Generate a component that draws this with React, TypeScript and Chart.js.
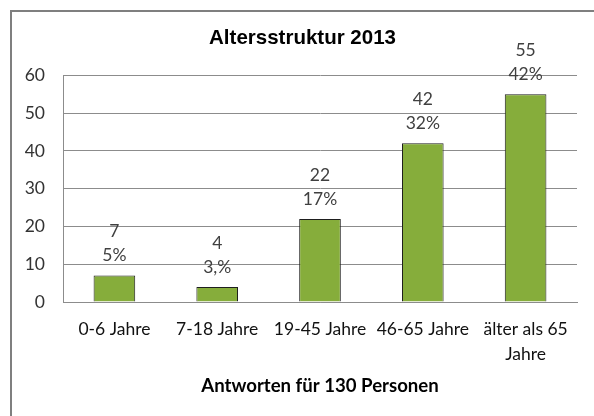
import React, { useEffect, useRef } from 'react';
import { Chart, registerables } from 'chart.js';

Chart.register(...registerables);

const categories: (string | string[])[] = [
  '0-6 Jahre',
  '7-18 Jahre',
  '19-45 Jahre',
  '46-65 Jahre',
  ['älter als 65', 'Jahre'],
];
const values = [7, 4, 22, 42, 55];
const percentLabels = ['5%', '3,%', '17%', '32%', '42%'];
const yMin = 0;
const yMax = 60;
const yStep = 10;
const chartTitle = 'Altersstruktur 2013';
const axisTitle = 'Antworten für 130 Personen';

const framePlugin = {
  id: 'frame',
  beforeDraw(chart: any) {
    const { ctx, width, height } = chart;
    ctx.save();
    ctx.fillStyle = '#ffffff';
    ctx.fillRect(0, 0, width, height);
    ctx.strokeStyle = '#7f7f7f';
    ctx.lineWidth = 2;
    ctx.beginPath();
    ctx.moveTo(11, height);
    ctx.lineTo(11, 11);
    ctx.lineTo(width, 11);
    ctx.stroke();
    ctx.restore();
  },
};

const dataLabelPlugin = {
  id: 'dataLabels',
  afterDatasetsDraw(chart: any) {
    const { ctx } = chart;
    const meta = chart.getDatasetMeta(0);
    ctx.save();
    ctx.font = '17.5px Lato';
    ctx.fillStyle = '#404040';
    ctx.textAlign = 'center';
    ctx.textBaseline = 'middle';
    meta.data.forEach((bar: any, i: number) => {
      ctx.fillText(String(values[i]), bar.x, bar.y - 44);
      ctx.fillText(percentLabels[i], bar.x, bar.y - 20);
    });
    ctx.restore();
  },
};

export default function App() {
  const canvasRef = useRef<HTMLCanvasElement | null>(null);

  useEffect(() => {
    if (!canvasRef.current) return;
    const chart = new Chart(canvasRef.current, {
      type: 'bar',
      data: {
        labels: categories,
        datasets: [
          {
            data: values,
            backgroundColor: '#86ad3b',
            borderColor: '#1e1e1e',
            borderWidth: 1,
            barPercentage: 0.9,
            categoryPercentage: 0.45,
          },
        ],
      },
      options: {
        animation: false,
        responsive: false,
        layout: { padding: { left: 11, right: 0, top: 11, bottom: 0 } },
        plugins: {
          legend: { display: false },
          tooltip: { enabled: false },
          title: {
            display: true,
            text: chartTitle,
            color: '#000000',
            font: { family: 'Liberation Sans', size: 20.5, weight: 'bold', lineHeight: 1.2 },
            padding: { top: 15.2, bottom: 24.5 },
          },
        },
        scales: {
          x: {
            afterFit: (s: any) => {
              s.height = 114;
            },
            grid: { display: false, drawTicks: false },
            border: { display: true, color: '#8c8c8c', width: 1 },
            title: {
              display: true,
              text: axisTitle,
              color: '#000000',
              font: { family: 'Lato', size: 18.6, weight: 'bold', lineHeight: 1.2 },
              padding: { top: 0, bottom: 19.3 },
            },
            ticks: {
              color: '#111111',
              font: { family: 'Lato', size: 17.5, lineHeight: '25px' },
              padding: 14.5,
              maxRotation: 0,
              autoSkip: false,
            },
          },
          y: {
            min: yMin,
            max: yMax,
            afterFit: (s: any) => {
              s.width = 52;
            },
            grid: { color: '#8c8c8c', lineWidth: 1, drawTicks: false },
            border: { display: true, color: '#8c8c8c', width: 1 },
            ticks: {
              stepSize: yStep,
              color: '#333333',
              font: { family: 'Lato', size: 17.5 },
              padding: 18,
            },
          },
          yRight: {
            position: 'right',
            display: true,
            afterFit: (s: any) => {
              s.width = 17;
            },
            grid: { display: false, drawTicks: false },
            border: { display: false },
            ticks: { display: false },
          },
        },
      },
      plugins: [framePlugin, dataLabelPlugin],
    });
    return () => chart.destroy();
  }, []);

  return (
    <div style={{ position: 'absolute', left: 0, top: 0, width: 594, height: 416 }}>
      <canvas ref={canvasRef} width={594} height={416} />
    </div>
  );
}
